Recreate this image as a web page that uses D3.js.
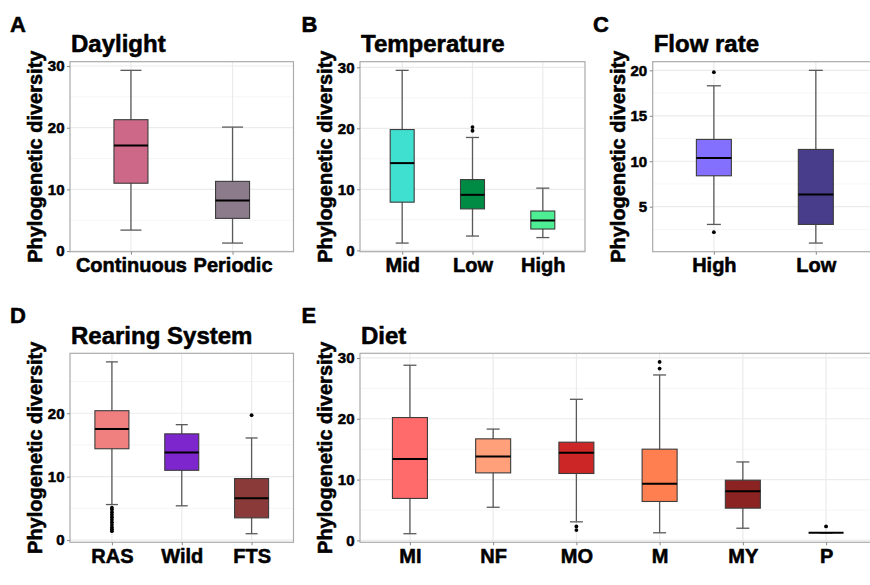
<!DOCTYPE html>
<html><head><meta charset="utf-8">
<script src="https://cdn.jsdelivr.net/npm/d3@7"></script>
<style>
body{margin:0;background:#fff}
text{font-family:"Liberation Sans",Arial,sans-serif;font-weight:bold;fill:#000;stroke:#000;stroke-width:0.55px;stroke-linejoin:round}
</style>
</head><body><svg id="c" width="870" height="585" xmlns="http://www.w3.org/2000/svg"></svg>
<script>
// Box statistics: [lowerWhisker, Q1, median, Q3, upperWhisker]
const daylightCats = ["Continuous", "Periodic"];
const daylightStats = [[3.4, 11.0, 17.1, 21.3, 29.3], [1.3, 5.3, 8.2, 11.3, 20.1]];
const daylightOutliers = [[], []];
const daylightColors = ["#CD6889", "#8B7B8B"];
const daylightTicks = [0, 10, 20, 30];

const temperatureCats = ["Mid", "Low", "High"];
const temperatureStats = [[1.2, 7.9, 14.3, 19.8, 29.5], [2.35, 6.8, 9.1, 11.6, 18.5], [2.1, 3.5, 4.9, 6.45, 10.2]];
const temperatureOutliers = [[], [19.6, 20.2], []];
const temperatureColors = ["#40E0D0", "#008B45", "#4EEE94"];
const temperatureTicks = [0, 10, 20, 30];

const flowCats = ["High", "Low"];
const flowStats = [[3.05, 8.4, 10.35, 12.4, 18.3], [1.0, 3.05, 6.35, 11.3, 20.0]];
const flowOutliers = [[19.8, 2.2], []];
const flowColors = ["#8470FF", "#483D8B"];
const flowTicks = [5, 10, 15, 20];

const rearingCats = ["RAS", "Wild", "FTS"];
const rearingStats = [[5.6, 14.4, 17.5, 20.4, 28.1], [5.4, 11.0, 13.8, 16.75, 18.2], [1.0, 3.5, 6.6, 9.7, 16.1]];
const rearingOutliers = [[5.1, 4.8, 4.4, 4.0, 3.6, 3.2, 2.8, 2.4, 2.0, 1.7, 1.4], [], [19.7]];
const rearingColors = ["#F08080", "#7D26CD", "#8B3A3A"];
const rearingTicks = [0, 10, 20];

const dietCats = ["MI", "NF", "MO", "M", "MY", "P"];
const dietStats = [[1.1, 6.9, 13.4, 20.2, 28.8], [5.45, 11.1, 13.8, 16.7, 18.3], [3.05, 11.0, 14.4, 16.15, 23.2],
                   [1.25, 6.4, 9.3, 15.0, 27.2], [2.0, 5.3, 8.1, 9.9, 12.9], [1.25, 1.25, 1.25, 1.25, 1.25]];
const dietOutliers = [[], [], [2.3, 1.7], [29.35, 28.25], [], [2.3]];
const dietColors = ["#FF6A6A", "#FFA07A", "#CD2626", "#FF7F50", "#8B2323", "#8B8B8B"];
const dietTicks = [0, 10, 20, 30];

const yTitle = "Phylogenetic diversity";

// Layout (positions/sizes only)
const panels = [
  {letter: "A", title: "Daylight", cats: daylightCats, stats: daylightStats, out: daylightOutliers, colors: daylightColors, ticks: daylightTicks,
   x0: 70, x1: 293.5, y0: 61.7, y1: 251.7, lx: 10, ly: 32, boxW: 34, capW: 21},
  {letter: "B", title: "Temperature", cats: temperatureCats, stats: temperatureStats, out: temperatureOutliers, colors: temperatureColors, ticks: temperatureTicks,
   x0: 360, x1: 585, y0: 61.7, y1: 251.7, lx: 301.5, ly: 32, boxW: 24, capW: 13},
  {letter: "C", title: "Flow rate", cats: flowCats, stats: flowStats, out: flowOutliers, colors: flowColors, ticks: flowTicks,
   x0: 652.7, x1: 877, y0: 61.7, y1: 251.7, lx: 593, ly: 32, boxW: 35, capW: 14},
  {letter: "D", title: "Rearing System", cats: rearingCats, stats: rearingStats, out: rearingOutliers, colors: rearingColors, ticks: rearingTicks,
   x0: 70, x1: 293.5, y0: 353.3, y1: 542.3, lx: 10, ly: 323.3, boxW: 34, capW: 12},
  {letter: "E", title: "Diet", cats: dietCats, stats: dietStats, out: dietOutliers, colors: dietColors, ticks: dietTicks,
   x0: 360, x1: 876, y0: 353.3, y1: 542.3, lx: 301.5, ly: 323.3, boxW: 35, capW: 13}
];

const svg = d3.select("#c");

panels.forEach(p => {
  const g = svg.append("g");
  const allVals = p.stats.flat().concat(p.out.flat());
  const mn = d3.min(allVals), mx = d3.max(allVals), r = mx - mn;
  const y = d3.scaleLinear().domain([mn - 0.05 * r, mx + 0.05 * r]).range([p.y1, p.y0]);
  const x = d3.scalePoint().domain(p.cats).range([p.x0, p.x1]).padding(0.6);

  // minor grid
  const step = p.ticks[1] - p.ticks[0];
  const dom = y.domain();
  const minor = [];
  for (let t = p.ticks[0] - step * 1.5; t <= dom[1]; t += step) if (t >= dom[0]) minor.push(t);
  g.selectAll(".mn").data(minor).enter().append("line")
    .attr("x1", p.x0).attr("x2", p.x1).attr("y1", d => y(d)).attr("y2", d => y(d))
    .attr("stroke", "#f3f3f3").attr("stroke-width", 0.8);
  g.selectAll(".mj").data(p.ticks).enter().append("line")
    .attr("x1", p.x0).attr("x2", p.x1).attr("y1", d => y(d)).attr("y2", d => y(d))
    .attr("stroke", "#ebebeb").attr("stroke-width", 1.2);
  g.selectAll(".vg").data(p.cats).enter().append("line")
    .attr("x1", d => x(d)).attr("x2", d => x(d)).attr("y1", p.y0).attr("y2", p.y1)
    .attr("stroke", "#ebebeb").attr("stroke-width", 1.2);

  // boxes
  p.cats.forEach((c, i) => {
    const s = p.stats[i], cx = x(c);
    const wc = "#5a5a5a";
    g.append("line").attr("x1", cx).attr("x2", cx).attr("y1", y(s[0])).attr("y2", y(s[4]))
      .attr("stroke", wc).attr("stroke-width", 1.3);
    [s[0], s[4]].forEach(v => g.append("line")
      .attr("x1", cx - p.capW / 2).attr("x2", cx + p.capW / 2).attr("y1", y(v)).attr("y2", y(v))
      .attr("stroke", wc).attr("stroke-width", 1.3));
    g.append("rect").attr("x", cx - p.boxW / 2).attr("width", p.boxW)
      .attr("y", y(s[3])).attr("height", Math.max(0, y(s[1]) - y(s[3])))
      .attr("fill", p.colors[i]).attr("stroke", "#3c3c3c").attr("stroke-width", 1.1);
    g.append("line").attr("x1", cx - p.boxW / 2).attr("x2", cx + p.boxW / 2)
      .attr("y1", y(s[2])).attr("y2", y(s[2])).attr("stroke", "#000").attr("stroke-width", 2);
    g.selectAll(null).data(p.out[i]).enter().append("circle")
      .attr("cx", cx).attr("cy", d => y(d)).attr("r", 1.9).attr("fill", "#000");
  });

  // border
  g.append("rect").attr("x", p.x0).attr("y", p.y0).attr("width", p.x1 - p.x0).attr("height", p.y1 - p.y0)
    .attr("fill", "none").attr("stroke", "#ababab").attr("stroke-width", 1.2);

  // axes
  const ya = g.append("g").attr("transform", `translate(${p.x0},0)`)
    .call(d3.axisLeft(y).tickValues(p.ticks).tickSize(3).tickPadding(2.5).tickFormat(d3.format("d")));
  ya.select(".domain").remove();
  ya.selectAll(".tick line").attr("stroke", "#888");
  ya.selectAll(".tick text").attr("font-size", 15).attr("font-family", null);

  const xa = g.append("g").attr("transform", `translate(0,${p.y1})`)
    .call(d3.axisBottom(x).tickSize(3).tickPadding(3.3));
  xa.select(".domain").remove();
  xa.selectAll(".tick line").attr("stroke", "#888");
  xa.selectAll(".tick text").attr("font-size", 20).attr("font-family", null);

  // y title
  g.append("text").attr("transform", `translate(${p.x0 - 28},${(p.y0 + p.y1) / 2}) rotate(-90)`)
    .attr("text-anchor", "middle").attr("font-size", 20).text(yTitle);
  // title
  g.append("text").attr("x", p.x0 + 1).attr("y", p.y0 - 9.6).attr("font-size", 24).text(p.title);
  // letter
  g.append("text").attr("x", p.lx).attr("y", p.ly).attr("font-size", 22).text(p.letter);
});
</script>
</body></html>
